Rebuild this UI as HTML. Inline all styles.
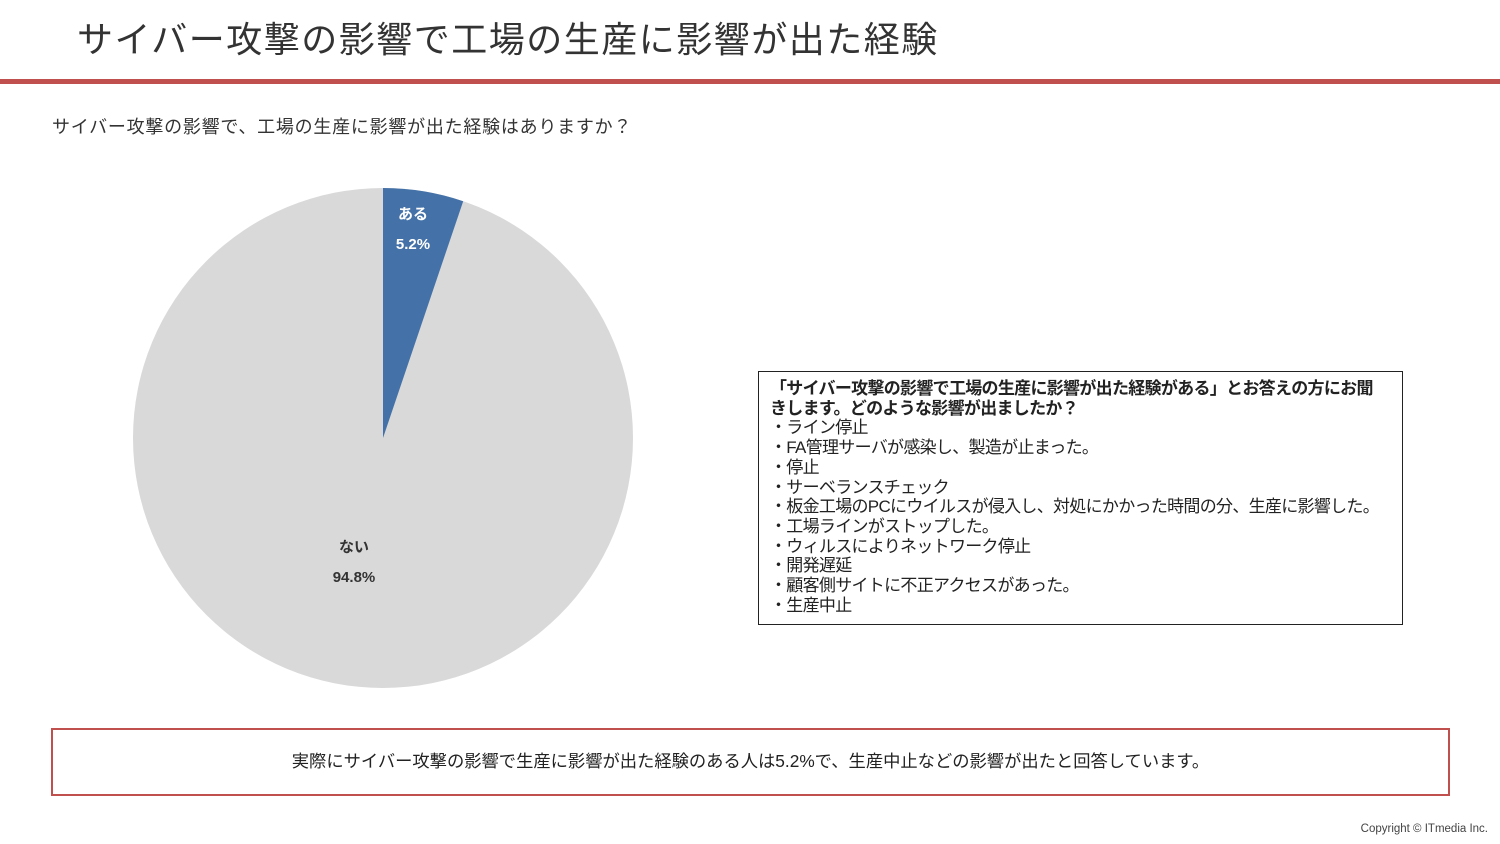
<!DOCTYPE html>
<html><head><meta charset="utf-8"><style>
body{margin:0;width:1500px;height:844px;background:#fff;position:relative;overflow:hidden;font-family:"Liberation Sans","Noto Sans CJK JP",sans-serif;color:#333}
.a{position:absolute;white-space:nowrap}
</style></head><body>
<div class="a" style="left:77px;top:16px;font-size:36px;line-height:48px;color:#333;letter-spacing:1.5px">サイバー攻撃の影響で工場の生産に影響が出た経験</div>
<div class="a" style="left:0;top:79px;width:1500px;height:5px;background:#c0504d"></div>
<div class="a" style="left:52px;top:115px;font-size:18px;line-height:24px;letter-spacing:0.75px">サイバー攻撃の影響で、工場の生産に影響が出た経験はありますか？</div>
<svg class="a" style="left:0;top:0" width="1500" height="844">
<circle cx="383" cy="438" r="250" fill="#d9d9d9"/>
<path d="M383,438 L383,188 A250,250 0 0,1 463.2,201.2 Z" fill="#4472a8"/>
<g font-family="Liberation Sans,Noto Sans CJK JP,sans-serif" font-weight="bold" font-size="15" text-anchor="middle">
<text x="413" y="219" fill="#fff">ある</text>
<text x="413" y="249" fill="#fff">5.2%</text>
<text x="354" y="552" fill="#333">ない</text>
<text x="354" y="582" fill="#333">94.8%</text>
</g>
</svg>
<div class="a" style="left:758px;top:371px;width:643px;height:252px;border:1.5px solid #222"></div>
<div class="a" style="left:770px;top:379px;font-size:17px;line-height:19.7px;letter-spacing:-0.7px;color:#222">
<b>「サイバー攻撃の影響で工場の生産に影響が出た経験がある」とお答えの方にお聞<br>きします。どのような影響が出ましたか？</b><br>
・ライン停止<br>・FA管理サーバが感染し、製造が止まった。<br>・停止<br>・サーベランスチェック<br>・板金工場のPCにウイルスが侵入し、対処にかかった時間の分、生産に影響した。<br>・工場ラインがストップした。<br>・ウィルスによりネットワーク停止<br>・開発遅延<br>・顧客側サイトに不正アクセスがあった。<br>・生産中止</div>
<div class="a" style="left:51px;top:728px;width:1395px;height:64px;border:2px solid #c0504d"></div>
<div class="a" style="left:51px;top:750px;width:1399px;text-align:center;font-size:17.3px;line-height:22px;color:#222">実際にサイバー攻撃の影響で生産に影響が出た経験のある人は5.2%で、生産中止などの影響が出たと回答しています。</div>
<div class="a" style="right:12px;top:823px;font-size:11.5px;color:#444">Copyright © ITmedia Inc.</div>
</body></html>
